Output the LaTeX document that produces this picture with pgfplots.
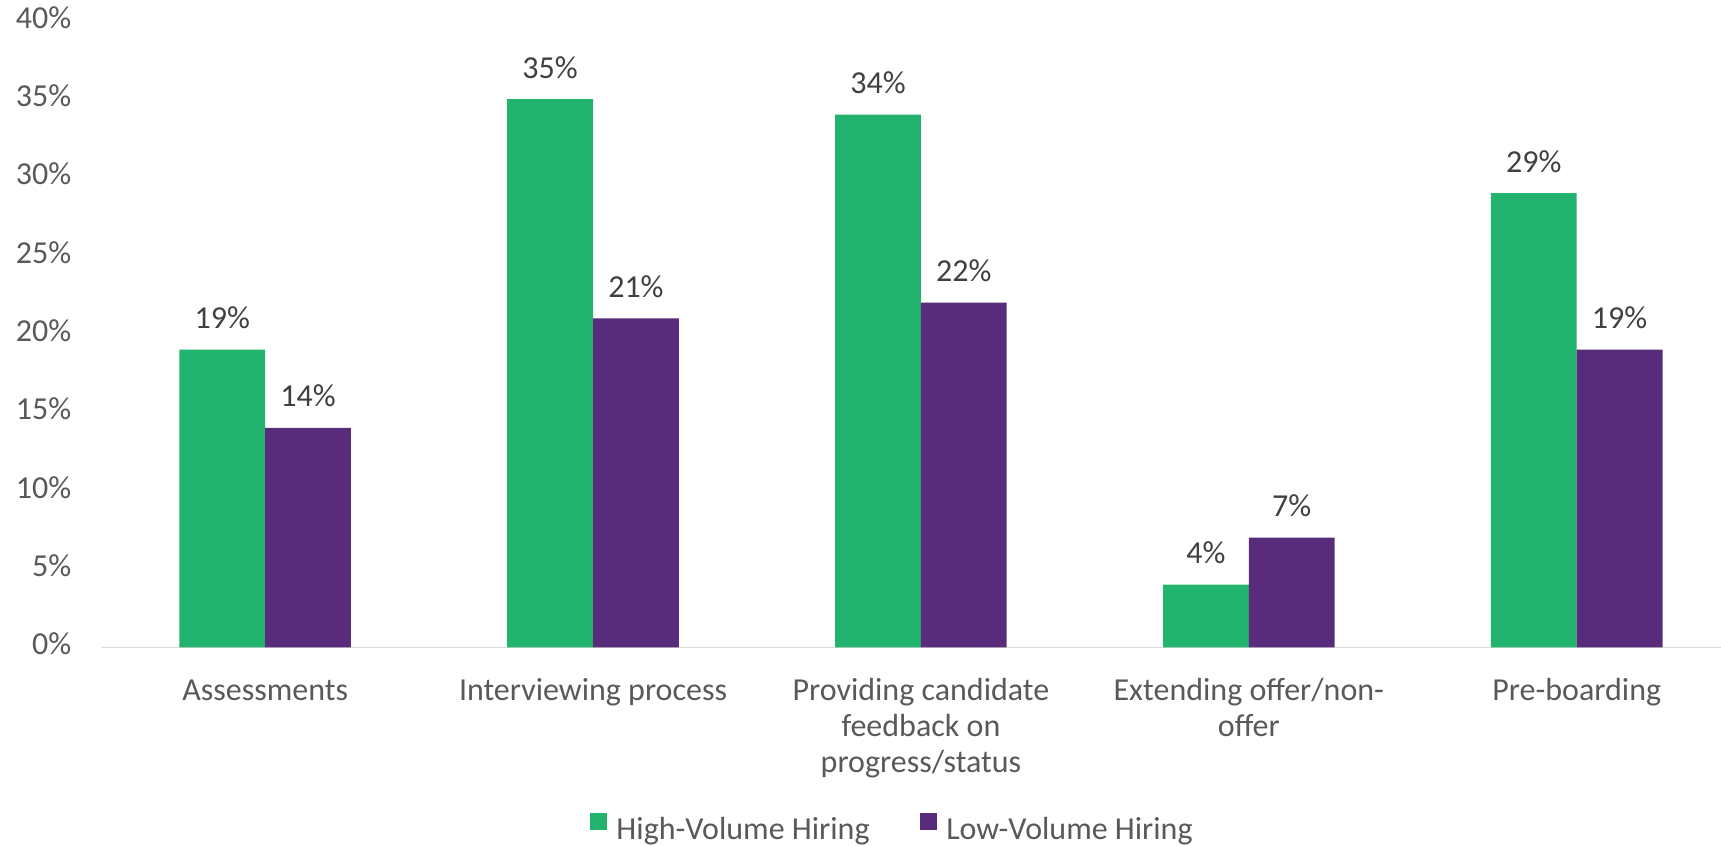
\documentclass[border=0pt]{standalone}
\usepackage{fontspec}
\setmainfont{Carlito}
\usepackage{pgfplots}
\pgfplotsset{compat=1.18}
\definecolor{hvgreen}{HTML}{22B46E}
\definecolor{lvpurple}{HTML}{582B7B}
\definecolor{ticktext}{HTML}{595959}
\definecolor{labeltext}{HTML}{404040}
\definecolor{axline}{HTML}{D9D9D9}
\begin{document}
\begin{tikzpicture}
\begin{axis}[
  at={(0,0)}, anchor=south west,
  scale only axis,
  width=809.9pt, height=313.3pt,
  xmin=-0.5, xmax=4.44,
  ymin=0, ymax=40,
  ybar=0pt,
  bar width=42.9pt,
  /pgf/number format/assume math mode=true,
  axis x line*=bottom,
  axis y line*=left,
  x axis line style={draw=axline, line width=0.75pt},
  y axis line style={draw=none},
  major tick length=0pt,
  xtick={0,1,2,3,4},
  xticklabels={Assessments,Interviewing process,{Providing candidate\\feedback on\\progress/status},{Extending offer/non-\\offer},Pre-boarding},
  xticklabel style={font=\fontsize{16}{18}\selectfont, text=ticktext, align=center, anchor=north, yshift=-13.7pt, inner sep=0pt},
  typeset ticklabels with strut,
  ytick={0,5,...,40},
  yticklabels={0\%,5\%,10\%,15\%,20\%,25\%,30\%,35\%,40\%},
  yticklabel style={font=\fontsize{16}{19}\selectfont, text=ticktext, anchor=east, inner sep=0pt, xshift=-14.75pt},
  nodes near coords={\pgfmathprintnumber{\pgfplotspointmeta}\%},
  every node near coord/.append style={font=\fontsize{16}{19}\selectfont, text=labeltext, anchor=base, inner sep=0pt, yshift=10.5pt},
  legend columns=2,
  legend style={draw=none, at={(0.489,-0.291)}, anchor=center, font=\fontsize{16}{19}\selectfont, text=ticktext,
    /tikz/every odd column/.append style={column sep=2.8pt},
    /tikz/every even column/.append style={column sep=23pt}, inner sep=0pt, cells={anchor=west, inner sep=0pt}},
  legend image code/.code={\fill[#1] (0pt,-0.3pt) rectangle (8.5pt,8.2pt);},
]
\addplot[fill=hvgreen, draw=none] coordinates {(0,19) (1,35) (2,34) (3,4) (4,29)};
\addplot[fill=lvpurple, draw=none] coordinates {(0,14) (1,21) (2,22) (3,7) (4,19)};
\legend{High-Volume Hiring, Low-Volume Hiring}
\end{axis}
\pgfresetboundingbox
\path[use as bounding box] (-50.6pt,-99.35pt) rectangle (809.9pt,323.65pt);
\end{tikzpicture}
\end{document}
